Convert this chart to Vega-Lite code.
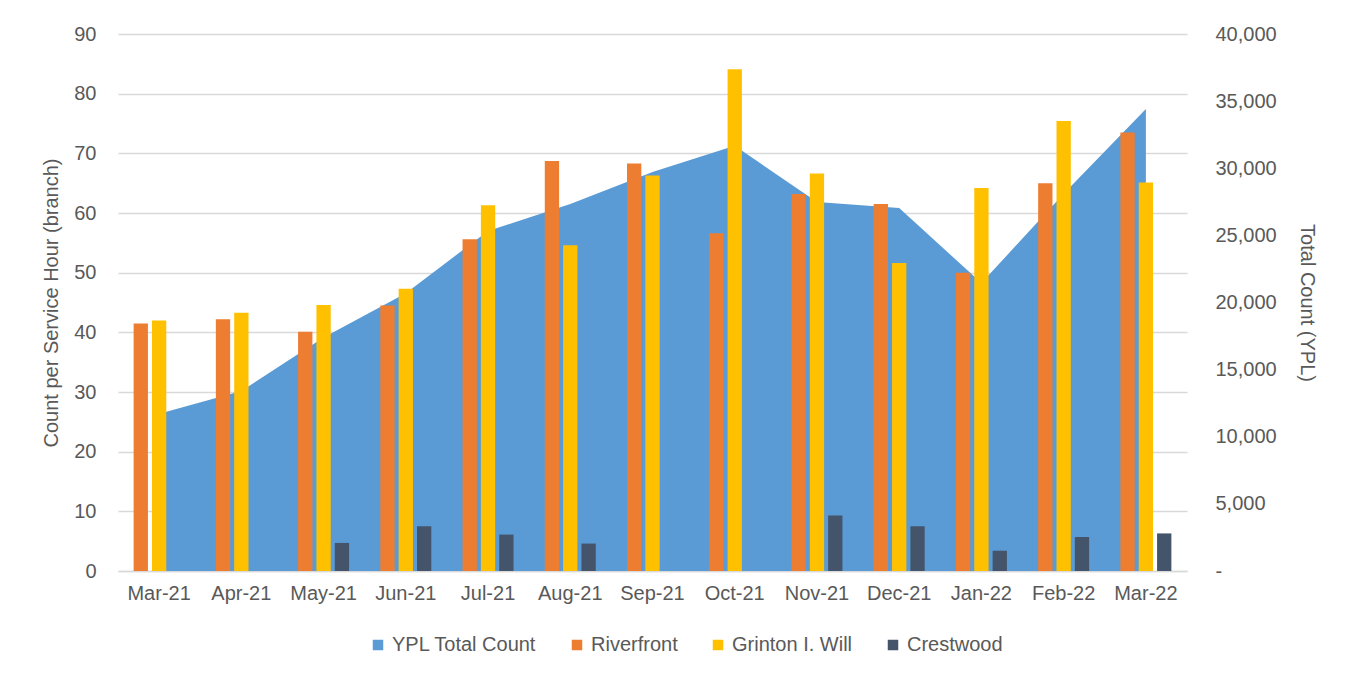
{
  "$schema": "https://vega.github.io/schema/vega-lite/v6.json",
  "autosize": "none",
  "width": 1069,
  "height": 537,
  "padding": {"left": 118, "top": 34, "right": 164, "bottom": 109},
  "background": "white",
  "config": {
    "font": "Liberation Sans",
    "view": {"stroke": null},
    "axis": {"labelFont": "Liberation Sans", "titleFont": "Liberation Sans", "labelColor": "#595959", "titleColor": "#595959", "labelFontSize": 20, "titleFontSize": 20, "titleFontWeight": "normal"},
    "legend": {"labelFont": "Liberation Sans", "labelColor": "#595959", "labelFontSize": 20}
  },
  "datasets": {
    "total": [
      {"month": "Mar-21", "total": 11710},
      {"month": "Apr-21", "total": 13410},
      {"month": "May-21", "total": 17400},
      {"month": "Jun-21", "total": 20690},
      {"month": "Jul-21", "total": 25330},
      {"month": "Aug-21", "total": 27340},
      {"month": "Sep-21", "total": 29720},
      {"month": "Oct-21", "total": 31670},
      {"month": "Nov-21", "total": 27490},
      {"month": "Dec-21", "total": 27040},
      {"month": "Jan-22", "total": 21450},
      {"month": "Feb-22", "total": 28100},
      {"month": "Mar-22", "total": 34410}
    ],
    "branches": [
      {"month": "Mar-21", "series": "Riverfront", "value": 41.5},
      {"month": "Mar-21", "series": "Grinton I. Will", "value": 42.0},
      {"month": "Apr-21", "series": "Riverfront", "value": 42.2},
      {"month": "Apr-21", "series": "Grinton I. Will", "value": 43.3},
      {"month": "May-21", "series": "Riverfront", "value": 40.1},
      {"month": "May-21", "series": "Grinton I. Will", "value": 44.6},
      {"month": "May-21", "series": "Crestwood", "value": 4.7},
      {"month": "Jun-21", "series": "Riverfront", "value": 44.5},
      {"month": "Jun-21", "series": "Grinton I. Will", "value": 47.3},
      {"month": "Jun-21", "series": "Crestwood", "value": 7.5},
      {"month": "Jul-21", "series": "Riverfront", "value": 55.6},
      {"month": "Jul-21", "series": "Grinton I. Will", "value": 61.3},
      {"month": "Jul-21", "series": "Crestwood", "value": 6.1},
      {"month": "Aug-21", "series": "Riverfront", "value": 68.7},
      {"month": "Aug-21", "series": "Grinton I. Will", "value": 54.6},
      {"month": "Aug-21", "series": "Crestwood", "value": 4.6},
      {"month": "Sep-21", "series": "Riverfront", "value": 68.3},
      {"month": "Sep-21", "series": "Grinton I. Will", "value": 66.3},
      {"month": "Oct-21", "series": "Riverfront", "value": 56.6},
      {"month": "Oct-21", "series": "Grinton I. Will", "value": 84.1},
      {"month": "Nov-21", "series": "Riverfront", "value": 63.2},
      {"month": "Nov-21", "series": "Grinton I. Will", "value": 66.6},
      {"month": "Nov-21", "series": "Crestwood", "value": 9.3},
      {"month": "Dec-21", "series": "Riverfront", "value": 61.5},
      {"month": "Dec-21", "series": "Grinton I. Will", "value": 51.6},
      {"month": "Dec-21", "series": "Crestwood", "value": 7.5},
      {"month": "Jan-22", "series": "Riverfront", "value": 50.0},
      {"month": "Jan-22", "series": "Grinton I. Will", "value": 64.2},
      {"month": "Jan-22", "series": "Crestwood", "value": 3.4},
      {"month": "Feb-22", "series": "Riverfront", "value": 65.0},
      {"month": "Feb-22", "series": "Grinton I. Will", "value": 75.4},
      {"month": "Feb-22", "series": "Crestwood", "value": 5.7},
      {"month": "Mar-22", "series": "Riverfront", "value": 73.5},
      {"month": "Mar-22", "series": "Grinton I. Will", "value": 65.1},
      {"month": "Mar-22", "series": "Crestwood", "value": 6.3}
    ]
  },
  "encoding": {
    "x": {
      "field": "month",
      "type": "nominal",
      "scale": {
        "domain": ["Mar-21", "Apr-21", "May-21", "Jun-21", "Jul-21", "Aug-21", "Sep-21", "Oct-21", "Nov-21", "Dec-21", "Jan-22", "Feb-22", "Mar-22"],
        "paddingInner": 0.38,
        "paddingOuter": 0.19
      },
      "axis": {"title": null, "labelAngle": 0, "labelPadding": 12, "ticks": false, "domainColor": "#D9D9D9", "domainWidth": 1.5, "grid": false}
    }
  },
  "layer": [
    {
      "data": {"name": "total"},
      "mark": {"type": "area", "opacity": 1, "color": "#5B9BD5"},
      "encoding": {
        "y": {
          "field": "total",
          "type": "quantitative",
          "scale": {"domain": [0, 40000], "nice": false},
          "axis": {
            "orient": "right",
            "title": "Total Count (YPL)",
            "values": [0, 5000, 10000, 15000, 20000, 25000, 30000, 35000, 40000],
            "labelExpr": "datum.value == 0 ? '-' : format(datum.value, ',')",
            "labelAlign": "left",
            "labelPadding": 28,
            "titlePadding": 20,
            "ticks": false,
            "domain": false,
            "grid": false
          }
        },
        "color": {
          "datum": "YPL Total Count",
          "type": "nominal",
          "scale": {
            "domain": ["YPL Total Count", "Riverfront", "Grinton I. Will", "Crestwood"],
            "range": ["#5B9BD5", "#ED7D31", "#FFC000", "#44546A"]
          },
          "legend": {
            "title": null,
            "orient": "none",
            "direction": "horizontal",
            "legendX": 250,
            "legendY": 601,
            "symbolType": "square",
            "symbolSize": 110,
            "symbolStrokeWidth": 0,
            "symbolOpacity": 1,
            "labelOffset": 4,
            "columnPadding": 30,
            "labelLimit": 400,
            "padding": 0
          }
        }
      }
    },
    {
      "data": {"name": "branches"},
      "mark": {"type": "bar"},
      "encoding": {
        "xOffset": {
          "field": "series",
          "type": "nominal",
          "scale": {"domain": ["Riverfront", "Grinton I. Will", "Crestwood"], "paddingInner": 0.22, "paddingOuter": 0}
        },
        "y": {
          "field": "value",
          "type": "quantitative",
          "scale": {"domain": [0, 90], "nice": false},
          "axis": {
            "orient": "left",
            "title": "Count per Service Hour (branch)",
            "values": [0, 10, 20, 30, 40, 50, 60, 70, 80, 90],
            "labelPadding": 22,
            "titlePadding": 12,
            "ticks": false,
            "domain": false,
            "grid": true,
            "gridColor": "#D9D9D9",
            "gridWidth": 1.5
          }
        },
        "color": {"field": "series", "type": "nominal", "legend": {"title": null}}
      }
    }
  ],
  "resolve": {"scale": {"y": "independent"}}
}
